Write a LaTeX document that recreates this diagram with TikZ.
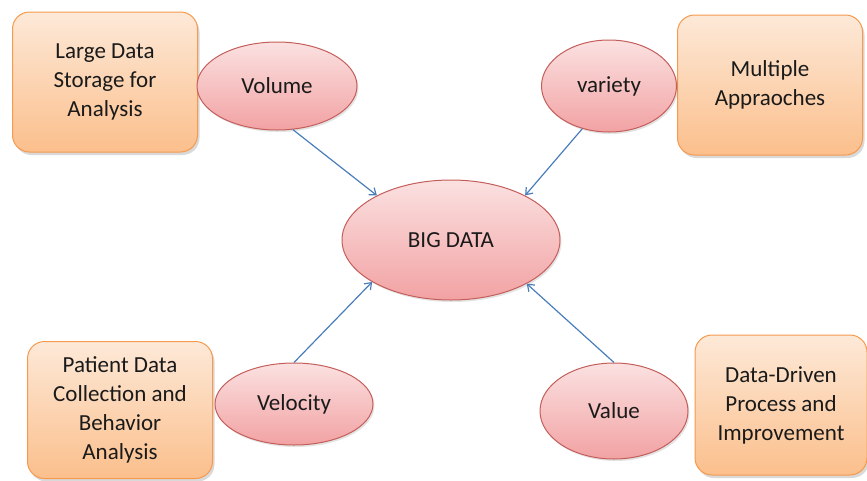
\documentclass[tikz,border=0pt]{standalone}
\usepackage{fontspec}
\setmainfont{Carlito}
\usetikzlibrary{arrows.meta,shadows,shapes.geometric}
\definecolor{boxline}{HTML}{F59A4E}
\definecolor{boxtop}{HTML}{FDE9D8}
\definecolor{boxbot}{HTML}{FBBF8C}
\definecolor{ellline}{HTML}{C45E5B}
\definecolor{elltop}{HTML}{FBE1E1}
\definecolor{ellbot}{HTML}{F2A2A3}
\definecolor{arrowblue}{HTML}{4A7EBB}
\definecolor{inktext}{HTML}{1A1A1A}
\tikzset{
  infobox/.style={draw=boxline, line width=1pt, rounded corners=17pt,
    top color=boxtop, bottom color=boxbot, align=center, inner sep=0pt,
    text=inktext, font=\fontsize{23}{29}\selectfont,
    drop shadow={shadow xshift=2pt, shadow yshift=-3pt, opacity=0.25, fill=black!60}},
  vball/.style={ellipse, draw=ellline, line width=1pt, inner sep=0pt,
    top color=elltop, bottom color=ellbot, text=inktext,
    font=\fontsize{23}{29}\selectfont,
    drop shadow={shadow xshift=1.5pt, shadow yshift=-2pt, opacity=0.18, fill=black!60}},
  link/.style={draw=arrowblue, line width=1.2pt,
    -{Straight Barb[length=6pt, width=9pt, line width=1.2pt]}}
}
\begin{document}
\begin{tikzpicture}[x=1pt, y=-1pt]
  \useasboundingbox (0,0) rectangle (867,480);

  % the four description boxes
  \node[infobox, minimum width=185pt, minimum height=140pt] (storage) at (105,82)
    {Large Data\\Storage for\\Analysis};
  \node[infobox, minimum width=185pt, minimum height=140pt] (approach) at (770,85)
    {Multiple\\Appraoches};
  \node[infobox, minimum width=185pt, minimum height=137pt] (patient) at (120,410)
    {Patient Data\\Collection and\\Behavior\\Analysis};
  \node[infobox, minimum width=172pt, minimum height=140pt] (process) at (781,405)
    {Data-Driven\\Process and\\Improvement};

  % the four V's and the centre
  \node[vball, minimum width=160pt, minimum height=88pt] (volume) at (277,86) {Volume};
  \node[vball, minimum width=135pt, minimum height=92pt] (variety) at (609,86) {variety};
  \node[vball, minimum width=158pt, minimum height=82pt] (velocity) at (294,404) {Velocity};
  \node[vball, minimum width=148pt, minimum height=96pt] (value) at (614,411) {Value};
  \node[vball, minimum width=218pt, minimum height=120pt] (big) at (451,240) {BIG DATA};

  % connectors into the centre
  \draw[link] (volume.-70) -- (big.149);
  \draw[link] (variety.-122) -- (big.31);
  \draw[link] (velocity.90) -- (big.208);
  \draw[link] (value.90) -- (big.-30);
\end{tikzpicture}
\end{document}
